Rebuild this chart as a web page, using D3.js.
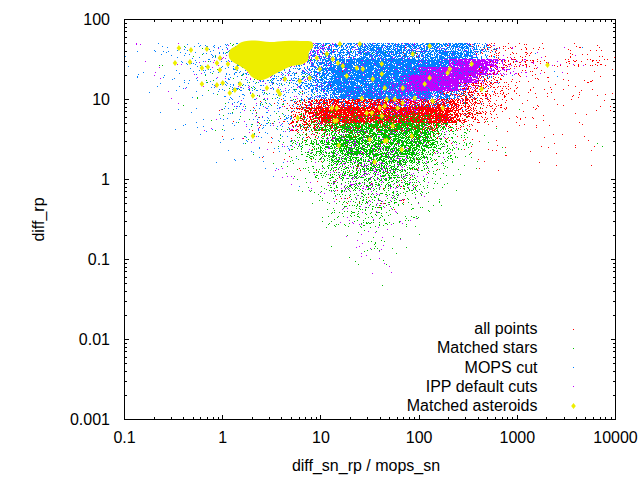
<!DOCTYPE html>
<html>
<head>
<meta charset="utf-8">
<script src="https://cdn.jsdelivr.net/npm/d3@7"></script>
<style>
  html, body { margin: 0; padding: 0; background: #fff; }
  svg { display: block; }
  text { font-family: "Liberation Sans", Arial, sans-serif; font-size: 16px; fill: #000; }
</style>
</head>
<body>
<svg id="chart" width="640" height="480"></svg>
<script>
// ---------------- data ----------------
const seriesNames  = ["all points", "Matched stars", "MOPS cut", "IPP default cuts", "Matched asteroids"];
const seriesColors = ["#ff0000", "#00c000", "#0080ff", "#c000ff", "#eeee00"];

const xTickValues = [0.1, 1, 10, 100, 1000, 10000];
const xTickLabels = ["0.1", "1", "10", "100", "1000", "10000"];
const yTickValues = [0.001, 0.01, 0.1, 1, 10, 100];
const yTickLabels = ["0.001", "0.01", "0.1", "1", "10", "100"];

// Point-density grids: cells of 0.1 decade in x (from 0.1)
// and 0.1 decade in y (downwards from the cap at ~50). Digit = density level 0..9.
const gridLeftValue = 0.1;
const gridTopValue = 50.12;
const cellDecades = 0.1;

const allPointsDensity = [
"0000000000 0000000001 1111111111 1111123443 3322222222",
"0000000000 0000000001 1111111111 1111123443 3322222222",
"0000000000 0000000001 1111111111 1111134555 4444444443",
"0000000000 0000000001 1111111111 1111146543 3332222222",
"0000000000 0000000011 1111111111 1111156543 3222222211",
"0000000000 0000000011 1111111111 1111666543 3222221111",
"0000000000 0000000011 1111111111 1166666543 3222221111",
"0000000000 0001123567 8888888888 8888765433 2222111111",
"0000000001 0011123678 9999999999 9998765432 2211111111",
"0000000000 0101123678 9999999999 9998654322 2111111110",
"0000000000 0101123566 7777777777 7765432211 1111111110",
"0000000001 0011112344 4444444444 4432211111 1111111100",
"0000000000 0001111222 2222222222 2221111111 1111011100",
"0000000000 0000011111 1111111111 1111111111 1101010100",
"0000000000 0000101111 1111111111 1110111010 1010010000",
"0000000000 0000000111 1111111111 1100001010 0001000100",
"0000000000 0000000011 1111111111 1000000000 0000000000",
"0000000000 0000000001 1111111111 0000000000 0000000000",
"0000000000 0000000000 0111111110 0000000000 0000000000",
"0000000000 0000000000 0111111110 0000000000 0000000000",
"0000000000 0000000000 0011111100 0000000000 0000000000"
];

const matchedStarsDensity = [
"0001001111 2222222222 1111111111 1111100000 0000000000",
"0000101111 2222222222 1111111111 1111100000 0000000000",
"0001001111 2222222222 1111111111 1111100000 0000000100",
"0000100111 1222222222 1111111111 1111100000 0000000000",
"0000010111 1222222222 1111111111 1111100000 0000000000",
"0000001011 1122222222 1111111111 1111110000 0000001000",
"0000000101 1112222222 1111111111 1111111000 0000000000",
"0000001011 1111222222 2222222222 2211111000 0000000000",
"0000000101 1111222233 3333333333 3322111000 1000000000",
"0000000010 1111222345 5555666666 5443211000 0000000000",
"0000000001 0111122356 7788888888 8765321100 0000000000",
"0000000001 0011112345 6788888888 8754321100 0000000000",
"0000000000 0011112456 7888888888 8765321100 0000000010",
"0000000000 0001112345 6788888888 7654321010 0000000000",
"0000000000 0000111245 6777777777 6543211000 0000000000",
"0000000000 0000011134 5666777766 5432110000 0000000000",
"0000000000 0000001124 5566666655 4332100000 0100000000",
"0000000000 0000000113 4555666554 4321100000 0000000000",
"0000000000 0000000113 4455555544 3221000000 0000000000",
"0000000000 0000000012 3444554443 2110000000 0000000000",
"0000000000 0000000011 3344444433 2110000000 0000000000",
"0000000000 0000000001 2334444333 1100000000 0000000000",
"0000000000 0000000000 2333443332 1000000000 0000000000",
"0000000000 0000000000 1122222211 1000000000 0000000000",
"0000000000 0000000000 0112222111 0000000000 0000000000",
"0000000000 0000000000 0111221110 0000000000 0000000000",
"0000000000 0000000000 0011111110 0000000000 0000000000",
"0000000000 0000000000 0001111100 0000000000 0000000000",
"0000000000 0000000000 0001111100 0000000000 0000000000",
"0000000000 0000000000 0000110100 0000000000 0000000000",
"0000000000 0000000000 0000101010 0000000000 0000000000"
];

const mopsCutDensity = [
"1112223333 4455555557 7777888888 8888876311 0101001010",
"1112223333 4455555557 7777888888 8888876310 0100100001",
"1111222333 4455555557 8899999999 9998875321 0010010000",
"0111222333 4455555567 8999999999 9999875321 0001000100",
"0111122233 4444455567 8999999999 9998764321 0000100000",
"0011122223 3444444567 8999999999 9987532110 0000000000",
"0011112222 3333444456 7899999999 9876532100 0000000000",
"0001111122 3333333444 5555555555 5554321000 0000000000",
"0001111112 3333333322 1111111111 1111110000 0000000000",
"0000111111 2233333322 1111111111 1111000000 0000000000",
"0000011111 2223333321 1100000000 0000000000 0000000000",
"0000001111 1222333221 1000000000 0000000000 0000000000",
"0000001011 1122222111 0000000000 0000000000 0000000000",
"0000000101 1112222111 0000000000 0000000000 0000000000",
"0000000001 0111211110 0000000000 0000000000 0000000000",
"0000000000 0011111100 0000000000 0000000000 0000000000",
"0000000000 0001111000 0000000000 0000000000 0000000000",
"0000000000 0000100100 0000000000 0000000000 0000000000"
];

const ippCutsDensity = [
"0101011112 2222222555 5433333333 3333322111 0100101000",
"0101011112 2222222455 4333333333 3333332111 0010010100",
"0010111112 2222222344 3333333333 3358999854 3322211100",
"0001011111 1222222233 3333333335 8899998654 3221110000",
"0001001111 1122222233 3333333469 9999984321 1100000000",
"0000101111 1122222223 3333434678 9999642110 0000000000",
"0000101111 1111222222 3334445566 6543221000 0000000000",
"0000010111 1111111222 2222245665 5421100000 0000000000",
"0000001011 1111111112 2222234554 3211000000 0000000000",
"0000000101 0111111112 2222223332 2110000000 0000000000",
"0000000010 0111111122 2333333332 2221000000 0000000000",
"0000000001 0011111122 2333333333 2221000000 0000000000",
"0000000000 0011111112 3334444433 3211000000 0000000000",
"0000000000 0001111112 3344444433 3211000000 0000000000",
"0000000000 0000111112 2344444443 3211000000 0000000000",
"0000000000 0000011112 2344444433 2110000000 0000000000",
"0000000000 0000001111 2334444433 2100000000 0000000000",
"0000000000 0000000111 1234444332 1100000000 0000000000",
"0000000000 0000000011 1233443322 1000000000 0000000000",
"0000000000 0000000001 1223333322 1000000000 0000000000",
"0000000000 0000000000 1122332221 1000000000 0000000000",
"0000000000 0000000000 0112222211 0000000000 0000000000",
"0000000000 0000000000 0112222111 0000000000 0000000000",
"0000000000 0000000000 0011121110 0000000000 0000000000",
"0000000000 0000000000 0011111110 0000000000 0000000000",
"0000000000 0000000000 0001111100 0000000000 0000000000",
"0000000000 0000000000 0000111100 0000000000 0000000000",
"0000000000 0000000000 0000101100 0000000000 0000000000",
"0000000000 0000000000 0000010100 0000000000 0000000000",
"0000000000 0000000000 0000001000 0000000000 0000000000"
];

// outline of the dense clump of overlapping matched asteroids
const asteroidClumpX = [1.573, 2.132, 3.031, 4.309, 6.127, 8.118, 8.31, 7.565, 7.389, 6.57, 5.08,
  4.113, 3.409, 2.893, 2.398, 1.988, 1.768, 1.501, 1.273, 1.159, 1.187, 1.366];
const asteroidClumpY = [52.3, 54.6, 52.3, 53.9, 53.9, 52.3, 45.3, 39.3, 31.2, 27.8, 26.2,
  23.4, 20.8, 18.6, 17.5, 19.1, 22.7, 26.2, 29.4, 34.0, 41.6, 46.7];

// individual matched asteroids outside the clump
const asteroidX = [0.358,0.475,0.327,0.464,0.614,0.707,0.873,0.937,0.937,0.690,
  0.614,0.873,1.00,1.24,1.13,1.39,1.50,1.18,1.33,2.03,
  2.03,2.82,3.65,3.82,4.30,6.10,7.71,9.75,9.08,11.5,
  13.2,14.9,16.7,23.2,26.7,18.3,33.7,41.7,44.7,26.1,
  12.9,14.5,29.3,33.0,39.7,41.7,60.6,13.8,24.9,15.6,
  5.82,128,86.1,41.7,205,195,128,114,68.1,46.8,
  56.5,90.2,137,68.1,44.7,174,343,433,2030,84.1,
  53.8,44.7,14.5,31.4,46.8,15.2,66.5,35.3];
const asteroidY = [44.0,41.6,28.6,29.4,24.8,25.5,28.6,23.4,33.0,42.8,
  15.6,15.2,16.1,33.0,27.8,24.8,15.6,12.1,13.1,11.1,
  3.50,13.9,12.8,11.7,18.0,17.0,18.6,24.0,33.0,37.0,
  32.1,28.6,26.2,24.8,24.0,19.7,18.0,20.8,13.9,10.4,
  7.83,7.83,6.78,6.78,7.83,6.22,7.83,5.39,49.4,49.4,
  5.87,46.6,37.0,27.8,24.0,21.4,18.6,15.6,13.9,10.1,
  10.1,10.4,9.58,9.04,8.29,7.83,27.8,13.5,27.0,3.50,
  4.67,3.03,5.47,3.16,3.07,2.66,2.37,1.66];

// fraction of pixels covered for each density level
const dotLevels = [0, 0.009, 0.02, 0.05, 0.1, 0.18, 0.3, 0.45, 0.68, 0.9];

// ---------------- drawing ----------------
const svg = d3.select("#chart");
svg.append("rect").attr("width", 640).attr("height", 480).attr("fill", "#fff");

const plotL = 124.5, plotR = 615.5, plotT = 19.5, plotB = 419.5;
const x = d3.scaleLog().domain([0.1, 10000]).range([plotL, plotR]);
const y = d3.scaleLog().domain([0.001, 100]).range([plotB, plotT]);

function ditherThreshold(px, py, k) {
  let h = (Math.imul(px, 374761393) + Math.imul(py, 668265263) + Math.imul(k + 1, 1442695041)) | 0;
  h = Math.imul(h ^ (h >>> 13), 1274126177);
  h = h ^ (h >>> 16);
  h = Math.imul(h, 2246822519);
  h = h ^ (h >>> 13);
  return (h >>> 0) / 4294967296;
}

const leftLog = Math.log10(gridLeftValue), topLog = Math.log10(gridTopValue);

function densityPath(grid, k, levels) {
  const rows = grid.map(r => r.replace(/\s/g, "").padEnd(50, "0"));
  const parts = [];
  for (let py = Math.ceil(plotT); py < plotB; py++) {
    const ly = Math.log10(y.invert(py + 0.5));
    const row = Math.floor((topLog - ly) / cellDecades);
    if (row < 0 || row >= rows.length) continue;
    const line = rows[row];
    for (let px = Math.ceil(plotL); px < plotR; px++) {
      const lx = Math.log10(x.invert(px + 0.5));
      const col = Math.floor((lx - leftLog) / cellDecades);
      if (col < 0 || col >= 50) continue;
      const lvl = +line[col];
      if (!lvl) continue;
      if (ditherThreshold(px, py, k) < levels[lvl]) parts.push("M" + px + "," + py + "h1v1h-1z");
    }
  }
  return parts.join("");
}

const dots = svg.append("g").attr("shape-rendering", "crispEdges");
const grids = [allPointsDensity, matchedStarsDensity, mopsCutDensity, ippCutsDensity];
grids.forEach((g, i) => {
  dots.append("path").attr("d", densityPath(g, i, dotLevels)).attr("fill", seriesColors[i]);
});

// asteroid clump
const clump = d3.line().curve(d3.curveCatmullRomClosed.alpha(0.5))
  .x((d, i) => x(d)).y((d, i) => y(asteroidClumpY[i]));
svg.append("path").attr("d", clump(asteroidClumpX)).attr("fill", seriesColors[4]);

function diamond(cx, cy) {
  return `M${cx},${cy - 3}L${cx + 2.3},${cy}L${cx},${cy + 3}L${cx - 2.3},${cy}Z`;
}
svg.append("g").selectAll("path").data(asteroidX).join("path")
  .attr("d", (d, i) => diamond(x(d), y(asteroidY[i])))
  .attr("fill", seriesColors[4]);

// ---------------- axes ----------------
const xMinor = [], yMinor = [];
[0.1, 1, 10, 100, 1000].forEach(d => { for (let m = 2; m <= 9; m++) xMinor.push(d * m); });
[0.001, 0.01, 0.1, 1, 10].forEach(d => { for (let m = 2; m <= 9; m++) yMinor.push(d * m); });

function styleAxis(g) {
  g.select(".domain").remove();
  g.attr("font-family", null).attr("font-size", null);
  g.selectAll("line").attr("stroke", "#000").attr("stroke-width", 1);
  g.attr("shape-rendering", "crispEdges");
}
const major = 4.5, minor = 2.5;

svg.append("g").attr("transform", `translate(0,${plotB})`)
  .call(d3.axisBottom(x).tickValues(xTickValues).tickFormat((d, i) => xTickLabels[i])
    .tickSizeInner(-major).tickSizeOuter(0).tickPadding(12.6).offset(0))
  .call(styleAxis);
svg.append("g").attr("transform", `translate(0,${plotB})`)
  .call(d3.axisBottom(x).tickValues(xMinor).tickFormat("").tickSizeInner(-minor).tickSizeOuter(0).offset(0))
  .call(styleAxis);
svg.append("g").attr("transform", `translate(0,${plotT})`)
  .call(d3.axisTop(x).tickValues(xTickValues).tickFormat("").tickSizeInner(-major).tickSizeOuter(0).offset(0))
  .call(styleAxis);
svg.append("g").attr("transform", `translate(0,${plotT})`)
  .call(d3.axisTop(x).tickValues(xMinor).tickFormat("").tickSizeInner(-minor).tickSizeOuter(0).offset(0))
  .call(styleAxis);

svg.append("g").attr("transform", `translate(${plotL},0)`)
  .call(d3.axisLeft(y).tickValues(yTickValues).tickFormat((d, i) => yTickLabels[i])
    .tickSizeInner(-major).tickSizeOuter(0).tickPadding(14.5).offset(0))
  .call(styleAxis);
svg.append("g").attr("transform", `translate(${plotL},0)`)
  .call(d3.axisLeft(y).tickValues(yMinor).tickFormat("").tickSizeInner(-minor).tickSizeOuter(0).offset(0))
  .call(styleAxis);
svg.append("g").attr("transform", `translate(${plotR},0)`)
  .call(d3.axisRight(y).tickValues(yTickValues).tickFormat("").tickSizeInner(-major).tickSizeOuter(0).offset(0))
  .call(styleAxis);
svg.append("g").attr("transform", `translate(${plotR},0)`)
  .call(d3.axisRight(y).tickValues(yMinor).tickFormat("").tickSizeInner(-minor).tickSizeOuter(0).offset(0))
  .call(styleAxis);

svg.append("rect")
  .attr("x", plotL).attr("y", plotT).attr("width", plotR - plotL).attr("height", plotB - plotT)
  .attr("fill", "none").attr("stroke", "#000").attr("stroke-width", 1).attr("shape-rendering", "crispEdges");

// axis titles
svg.append("text").attr("x", 366).attr("y", 470.5).attr("text-anchor", "middle").text("diff_sn_rp / mops_sn");
svg.append("text").attr("transform", "translate(43.5,219.5) rotate(-90)").attr("text-anchor", "middle").text("diff_rp");

// ---------------- legend ----------------
const legendBaselines = [334, 353.3, 372.5, 391.7, 411];
const legend = svg.append("g");
seriesNames.forEach((name, i) => {
  legend.append("text").attr("x", 537.5).attr("y", legendBaselines[i]).attr("text-anchor", "end").text(name);
  const cy = legendBaselines[i] - 5;
  if (i < 4) {
    legend.append("rect").attr("x", 573).attr("y", Math.floor(cy)).attr("width", 1).attr("height", 1)
      .attr("fill", seriesColors[i]).attr("shape-rendering", "crispEdges");
  } else {
    legend.append("path").attr("d", diamond(573.5, cy)).attr("fill", seriesColors[i]);
  }
});
</script>
</body>
</html>
